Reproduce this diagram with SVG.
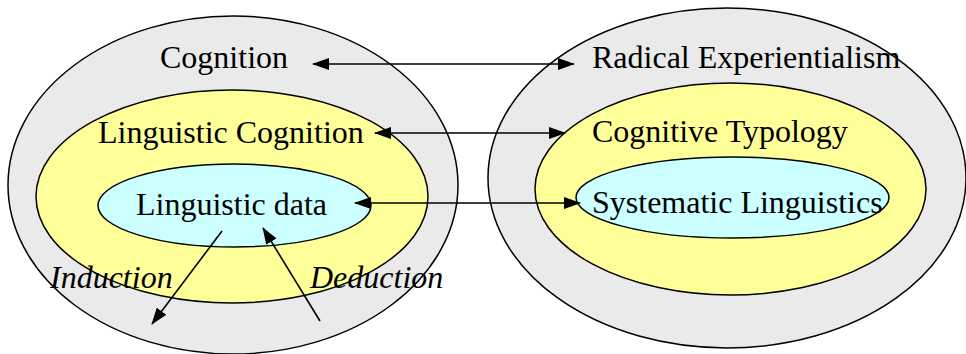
<svg xmlns="http://www.w3.org/2000/svg" width="966" height="354" viewBox="0 0 966 354">
<style>
.e{stroke:#000;stroke-width:1.5}
.g{fill:#EAEAEA}.y{fill:#FFFF99}.c{fill:#CCFFFF}
text{font-family:"Liberation Serif","Times New Roman",serif;font-size:32px;fill:#000}
.i{font-style:italic}
.ln{stroke:#000;stroke-width:1.6;fill:none}
</style>
<defs>
<marker id="ah" markerUnits="userSpaceOnUse" markerWidth="18" markerHeight="12" refX="16" refY="6" orient="auto-start-reverse" viewBox="0 0 18 12">
<path d="M0,0 L17,6 L0,12 Z" fill="#000"/>
</marker>
</defs>
<rect width="966" height="354" fill="#fff"/>
<g id="cognition"><ellipse class="e g" cx="233" cy="185" rx="225" ry="169"/></g>
<g id="linguistic-cognition"><ellipse class="e y" cx="232" cy="196.5" rx="196" ry="106.5"/></g>
<g id="linguistic-data"><ellipse class="e c" cx="234.5" cy="205.5" rx="136.5" ry="41.5"/></g>
<g id="radical-experientialism"><ellipse class="e g" cx="727" cy="178" rx="239" ry="170"/></g>
<g id="cognitive-typology"><ellipse class="e y" cx="730.5" cy="189" rx="195.5" ry="106"/></g>
<g id="systematic-linguistics"><ellipse class="e c" cx="732.5" cy="197.5" rx="156.5" ry="40.5"/></g>
<g id="connectors">
<line class="ln" x1="313" y1="64" x2="574" y2="64" marker-start="url(#ah)" marker-end="url(#ah)"/>
<line class="ln" x1="375" y1="133" x2="565" y2="133" marker-start="url(#ah)" marker-end="url(#ah)"/>
<line class="ln" x1="355" y1="203" x2="580" y2="203" marker-start="url(#ah)" marker-end="url(#ah)"/>
<line class="ln" x1="222" y1="231" x2="152" y2="324" marker-end="url(#ah)"/>
<line class="ln" x1="320" y1="321" x2="263" y2="228" marker-end="url(#ah)"/>
</g>
<g id="labels">
<text x="160" y="68">Cognition</text>
<text x="98" y="143">Linguistic Cognition</text>
<text x="136" y="215">Linguistic data</text>
<text class="i" x="50" y="288">Induction</text>
<text class="i" x="310" y="288">Deduction</text>
<text x="592" y="68">Radical Experientialism</text>
<text x="592" y="142">Cognitive Typology</text>
<text x="592" y="213">Systematic Linguistics</text>
</g>
</svg>
